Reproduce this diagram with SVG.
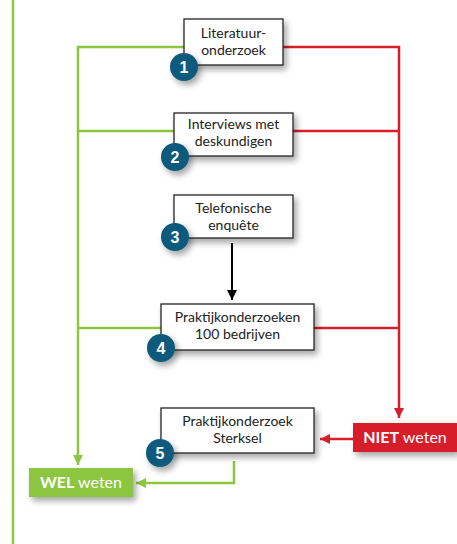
<svg xmlns="http://www.w3.org/2000/svg" width="457" height="544" viewBox="0 0 457 544">
<defs>
<filter id="sh" x="-20%" y="-20%" width="150%" height="160%">
<feDropShadow dx="3" dy="4" stdDeviation="3" flood-color="#000" flood-opacity="0.35"/>
</filter>
<marker id="ag" viewBox="0 0 10 10" refX="10" refY="5" markerWidth="10" markerHeight="10" orient="auto" markerUnits="userSpaceOnUse"><path d="M0,0 L10,5 L0,10 z" fill="#8cc63f"/></marker>
<marker id="ar" viewBox="0 0 10 10" refX="10" refY="5" markerWidth="10" markerHeight="10" orient="auto" markerUnits="userSpaceOnUse"><path d="M0,0 L10,5 L0,10 z" fill="#d71f2a"/></marker>
<marker id="ab" viewBox="0 0 10 10" refX="10" refY="5" markerWidth="10" markerHeight="10" orient="auto" markerUnits="userSpaceOnUse"><path d="M0,0 L10,5 L0,10 z" fill="#000"/></marker>
</defs>
<style>
.box{fill:#fff;stroke:#222;stroke-width:1.3}
.t{font-family:Lato,"Liberation Sans",Arial,sans-serif;font-size:14px;fill:#222;text-anchor:middle}
.num{font-family:"Liberation Sans",Arial,sans-serif;font-size:16px;font-weight:bold;fill:#fff;text-anchor:middle}
.c{fill:#0d5a7c}
.g{stroke:#8cc63f;stroke-width:2.5;fill:none}
.r{stroke:#d71f2a;stroke-width:2.5;fill:none}
.k{stroke:#000;stroke-width:2;fill:none}
.lbl{font-family:Lato,"Liberation Sans",Arial,sans-serif;font-size:16px;fill:#fff;text-anchor:middle}
</style>
<rect width="457" height="544" fill="#fff"/>
<g id="connectors">
<line class="g" x1="13" y1="0" x2="13" y2="544"/>
<path class="g" d="M184,47 H78 V465" marker-end="url(#ag)"/>
<line class="g" x1="78" y1="131" x2="174" y2="131"/>
<line class="g" x1="78" y1="328" x2="161" y2="328"/>
<path class="g" d="M234,461 V483 H136" marker-end="url(#ag)"/>
<path class="r" d="M283,47 H399 V418" marker-end="url(#ar)"/>
<line class="r" x1="293" y1="131" x2="399" y2="131"/>
<line class="r" x1="314" y1="328" x2="399" y2="328"/>
<path class="r" d="M353,439 H320" marker-end="url(#ar)"/>
<path class="k" d="M232,243 V300" marker-end="url(#ab)"/>
</g>
<g id="n1">
<rect class="box" x="184" y="19" width="99" height="46" filter="url(#sh)"/>
<text class="t" x="233.5" y="38">Literatuur-</text>
<text class="t" x="233.5" y="55">onderzoek</text>
<circle class="c" cx="184" cy="67" r="14" filter="url(#sh)"/>
<text class="num" x="184" y="73">1</text>
</g>
<g id="n2">
<rect class="box" x="174" y="113" width="119" height="43" filter="url(#sh)"/>
<text class="t" x="233.5" y="129">Interviews met</text>
<text class="t" x="233.5" y="146">deskundigen</text>
<circle class="c" cx="175" cy="157" r="14" filter="url(#sh)"/>
<text class="num" x="175" y="163">2</text>
</g>
<g id="n3">
<rect class="box" x="174" y="195" width="119" height="43" filter="url(#sh)"/>
<text class="t" x="233.5" y="213">Telefonische</text>
<text class="t" x="233.5" y="230">enquête</text>
<circle class="c" cx="175" cy="237" r="14" filter="url(#sh)"/>
<text class="num" x="175" y="243">3</text>
</g>
<g id="n4">
<rect class="box" x="161" y="304" width="153" height="46" filter="url(#sh)"/>
<text class="t" x="237.5" y="322">Praktijkonderzoeken</text>
<text class="t" x="237.5" y="339">100 bedrijven</text>
<circle class="c" cx="161" cy="348" r="14" filter="url(#sh)"/>
<text class="num" x="161" y="354">4</text>
</g>
<g id="n5">
<rect class="box" x="161" y="408" width="153" height="45" filter="url(#sh)"/>
<text class="t" x="237.5" y="426">Praktijkonderzoek</text>
<text class="t" x="237.5" y="443">Sterksel</text>
<circle class="c" cx="160" cy="453" r="14" filter="url(#sh)"/>
<text class="num" x="160" y="459">5</text>
</g>
<g id="niet">
<rect x="353" y="423" width="104" height="29" fill="#d71f2a" filter="url(#sh)"/>
<text class="lbl" x="405" y="443"><tspan font-weight="bold">NIET</tspan> weten</text>
</g>
<g id="wel">
<rect x="29" y="468" width="104" height="29" fill="#8cc63f" filter="url(#sh)"/>
<text class="lbl" x="81" y="488"><tspan font-weight="bold">WEL</tspan> weten</text>
</g>
</svg>
